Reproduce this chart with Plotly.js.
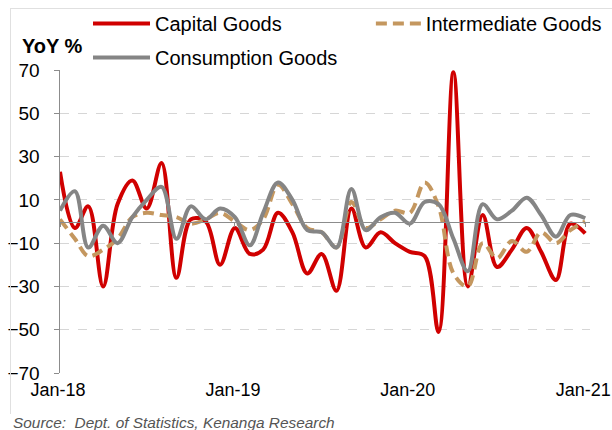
<!DOCTYPE html>
<html>
<head>
<meta charset="utf-8">
<script src="https://cdn.plot.ly/plotly-3.0.1.min.js"></script>
<style>
  html, body { margin: 0; padding: 0; background: #fff; }
  #chart { width: 612px; height: 430px; position: relative; }
  #frame { position: absolute; left: 10px; top: 8px; width: 610px; height: 405px; border-left: 1px solid #e0e0e0; border-top: 1px solid #e0e0e0; pointer-events: none; }
</style>
</head>
<body>
<div id="chart"></div>
<div id="frame"></div>
<script>
// Monthly, Jan-18 .. Jan-21
const startYear = 2018, nMonths = 37;
const months = [];
for (let i = 0; i < nMonths; i++) {
  const y = startYear + Math.floor(i / 12), m = (i % 12) + 1;
  months.push(y + '-' + String(m).padStart(2, '0') + '-01');
}

const capitalGoods = [23, -3, 7, -30, 8, 19, 6, 27, -26, 1, 0, -20, -3, -15, -13, 4, -5, -24, -15, -32,
  6, -12, -5, -10, -14, -16, -51, 69, -30, 3, -21, -13, -3, -14, -27, -1, -5.5];
const intermediateGoods = [1, -8, -16, -13, -8, 2, 4, 3, 2, -1, 1, 4, 0, -4, 1, 17, 8, -3, -5, -12,
  9, -3, 1, 5, 4, 18, 7, -24, -30, -10, -17, -9, -14, -5, -10, -4, 0];
const consumptionGoods = [5, 14, -12, -2, -10, 2, 10, 16, -8, 7, 1, 6, 2, -11, 4, 18, 10, -4, -5, -12,
  15, -4, 2, 4, -1, 9, 8, -8, -23, 8, 1, 5, 11, 3, -7, 3, 1.5];

const yTicks = [-70, -50, -30, -10, 10, 30, 50, 70];
const xTickVals = ['2018-01-01', '2019-01-01', '2020-01-01', '2021-01-01'];
const xTickText = ['Jan-18', 'Jan-19', 'Jan-20', 'Jan-21'];

const FONT = '"Liberation Sans", Arial, sans-serif';
const FS = 20;

const traces = [
  { x: months, y: capitalGoods, name: 'Capital Goods', type: 'scatter', mode: 'lines', legend: 'legend',
    line: { color: '#d00000', width: 4, shape: 'spline', smoothing: 1 } },
  { x: months, y: intermediateGoods, name: 'Intermediate Goods', type: 'scatter', mode: 'lines', legend: 'legend2',
    line: { color: '#c4975f', width: 4, dash: '11px,6px', shape: 'spline', smoothing: 1 } },
  { x: months, y: consumptionGoods, name: 'Consumption Goods', type: 'scatter', mode: 'lines', legend: 'legend3',
    line: { color: '#858585', width: 4, shape: 'spline', smoothing: 1 } },
  // invisible trace so the zero-line axis (with its tick marks) is drawn
  { x: months, y: capitalGoods, xaxis: 'x2', type: 'scatter', mode: 'lines', showlegend: false,
    hoverinfo: 'skip', line: { width: 0 }, opacity: 0 }
];

const legendCommon = {
  orientation: 'h', xref: 'container', yref: 'container', xanchor: 'left', yanchor: 'top',
  itemwidth: 57,
  font: { family: FONT, size: FS, color: '#000' },
  bgcolor: 'rgba(0,0,0,0)', traceorder: 'normal'
};

const layout = {
  width: 612, height: 430,
  margin: { l: 60, r: 22, t: 70, b: 57, autoexpand: false },
  paper_bgcolor: '#fff', plot_bgcolor: '#fff',
  font: { family: FONT, size: FS, color: '#000' },
  showlegend: true,
  legend: Object.assign({}, legendCommon, { x: 0.1438, y: 0.9907 }),
  legend2: Object.assign({}, legendCommon, { x: 0.606, y: 0.9907, itemwidth: 45 }),
  legend3: Object.assign({}, legendCommon, { x: 0.1438, y: 0.9116 }),
  xaxis: {
    type: 'date', range: ['2018-01-01', '2021-01-11'],
    tickvals: xTickVals, ticktext: xTickText,
    showgrid: false, zeroline: false, showline: false, ticks: '',
    tickfont: { family: FONT, size: 18 }, ticklabelstandoff: 4, ticklabelshift: -2,
    ticklabeloverflow: 'allow'
  },
  xaxis2: {
    type: 'date', overlaying: 'x', anchor: 'free', position: 0.5, side: 'bottom',
    range: ['2018-01-01', '2021-01-11'], matches: 'x',
    tickvals: xTickVals, showticklabels: false,
    showgrid: false, zeroline: false, showline: true, linecolor: '#8c8c8c', linewidth: 1.5,
    ticks: 'outside', ticklen: 4, tickcolor: '#8c8c8c'
  },
  yaxis: {
    range: [-70, 70], tickvals: yTicks,
    showgrid: true, gridcolor: '#d6d6d6', griddash: 'dash', gridwidth: 1,
    zeroline: false, showline: true, linecolor: '#8c8c8c', linewidth: 1.5,
    ticks: 'outside', ticklen: 5, tickcolor: '#8c8c8c',
    tickfont: { family: FONT, size: 19 }, ticklabelstandoff: 10
  },
  annotations: [
    { text: '<b>YoY %</b>', xref: 'paper', yref: 'paper', x: -0.0755, y: 1.035,
      xanchor: 'left', yanchor: 'bottom', showarrow: false,
      font: { family: FONT, size: FS, color: '#000' } },
    { text: 'Source:  Dept. of Statistics, Kenanga Research', xref: 'paper', yref: 'paper',
      x: -0.093, y: -0.128, xanchor: 'left', yanchor: 'top', showarrow: false,
      font: { family: '"Liberation Sans Narrow", "Arial Narrow", "Liberation Sans", sans-serif', size: 15.4, color: '#555', style: 'italic' } }
  ]
};

Plotly.newPlot('chart', traces, layout, { displayModeBar: false, staticPlot: true });
</script>
</body>
</html>
